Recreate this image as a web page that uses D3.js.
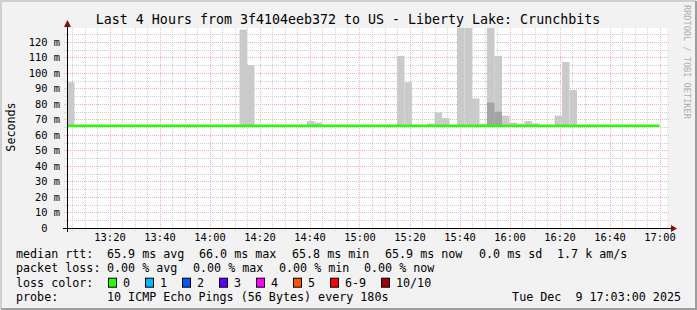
<!DOCTYPE html>
<html><head><meta charset="utf-8">
<script src="https://cdn.jsdelivr.net/npm/d3@7"></script>
<style>
html,body{margin:0;padding:0;background:#f2f2f2;}
svg{display:block;}
text{font-family:"DejaVu Sans Mono",monospace;white-space:pre;}
</style></head><body><svg id="c" width="697" height="310"></svg>
<script>
const title = "Last 4 Hours from 3f4104eeb372 to US - Liberty Lake: Crunchbits";
const day = "2025-12-09";
const startTime = "13:03";
const endTime = "17:03";
const stepMinutes = 3;
// smoke (max of 10 pings) per 3-minute step, ms
const smokeTimes = ["13:03","14:12","14:15","14:39","14:42","15:15","15:18","15:27","15:30","15:33","15:39","15:42","15:45","15:48","15:51","15:54","15:57","16:00","16:03","16:06","16:09","16:18","16:21","16:24"];
const smokeMax   = [94,128,105,69,68,111,94,67.3,74.5,71,140,140,83.5,67.3,129,111,72.5,68,67.3,69,67.5,72.5,107,89];
const smokeDarkTimes = ["15:51","15:54"];
const smokeDark      = [81,75];
const smokeMin = 65.8;
const medianTimes = ["13:03","17:00"];
const medianRtt   = [65.9,65.9];
const yTicks = [0,10,20,30,40,50,60,70,80,90,100,110,120];
const xTicks = ["13:20","13:40","14:00","14:20","14:40","15:00","15:20","15:40","16:00","16:20","16:40","17:00"];
const lossLabels = ["0","1","2","3","4","5","6-9","10/10"];
const lossColors = ["#26ff00","#00b8ff","#0059ff","#5e00ff","#ff00ff","#ff5500","#ff0000","#a10000"];
const legendRtt = ["median rtt:","65.9 ms avg","66.0 ms max","65.8 ms min","65.9 ms now","0.0 ms sd","1.7 k am/s"];
const legendLoss = ["packet loss:","0.00 % avg","0.00 % max","0.00 % min","0.00 % now"];
const probeText = ["probe:","10 ICMP Echo Pings (56 Bytes) every 180s","Tue Dec  9 17:03:00 2025"];

const parse = d3.timeParse("%Y-%m-%d %H:%M");
const T = s => parse(day+" "+s);
const svg = d3.select("#c");
const L=67,R=667,TOP=28,B=228;
const x = d3.scaleTime().domain([T(startTime),T(endTime)]).range([L,R]);
const y = d3.scaleLinear().domain([0,129]).range([B,TOP]);

// frame
svg.append("rect").attr("width",697).attr("height",310).attr("fill","#f2f2f2");
svg.append("path").attr("d","M1,309 V1 H696").attr("fill","none").attr("stroke","#cfcfcf").attr("stroke-width",2);
svg.append("path").attr("d","M1,309 H696 V1").attr("fill","none").attr("stroke","#9e9e9e").attr("stroke-width",2);
svg.append("rect").attr("x",L).attr("y",TOP).attr("width",R-L).attr("height",B-TOP).attr("fill","#fff");

// grid
const g = svg.append("g");
const minorT = d3.timeMinute.every(5).range(T("13:05"),T("17:03"));
g.selectAll(".vmin").data(minorT).join("line").attr("x1",d=>Math.round(x(d))+0.5).attr("x2",d=>Math.round(x(d))+0.5)
 .attr("y1",TOP).attr("y2",B+3).attr("stroke","#d0d0d0").attr("stroke-dasharray","1,1");
const minorV = d3.range(5,130,5);
g.selectAll(".hmin").data(minorV).join("line").attr("y1",d=>Math.round(y(d))+0.5).attr("y2",d=>Math.round(y(d))+0.5)
 .attr("x1",L-3).attr("x2",R+3).attr("stroke","#d0d0d0").attr("stroke-dasharray","1,1");
g.selectAll(".vmaj").data(xTicks.map(T)).join("line").attr("x1",d=>Math.round(x(d))+0.5).attr("x2",d=>Math.round(x(d))+0.5)
 .attr("y1",TOP).attr("y2",B+3).attr("stroke","#f2b0b0").attr("stroke-dasharray","1,1");
g.selectAll(".hmaj").data(yTicks.slice(1)).join("line").attr("y1",d=>Math.round(y(d))+0.5).attr("y2",d=>Math.round(y(d))+0.5)
 .attr("x1",L-3).attr("x2",R+3).attr("stroke","#f2b0b0").attr("stroke-dasharray","1,1");

// smoke
svg.append("clipPath").attr("id","pc").append("rect").attr("x",L).attr("y",TOP).attr("width",R-L).attr("height",B-TOP);
const sm = svg.append("g").attr("clip-path","url(#pc)");
const step = t => d3.timeMinute.offset(T(t),stepMinutes);
sm.selectAll(".s").data(smokeTimes).join("rect")
 .attr("x",t=>x(T(t))).attr("width",t=>x(step(t))-x(T(t)))
 .attr("y",(t,i)=>y(smokeMax[i])).attr("height",(t,i)=>y(smokeMin)-y(smokeMax[i])).attr("fill","#cacaca");
sm.selectAll(".d").data(smokeDarkTimes).join("rect")
 .attr("x",t=>x(T(t))).attr("width",t=>x(step(t))-x(T(t)))
 .attr("y",(t,i)=>y(smokeDark[i])).attr("height",(t,i)=>y(smokeMin)-y(smokeDark[i])).attr("fill","#a4a4a4");

// median line
svg.append("path").datum(medianTimes.map((t,i)=>[T(t),medianRtt[i]]))
 .attr("d",d3.line().x(d=>x(d[0])).y(d=>y(d[1]))).attr("stroke","#26ff00").attr("stroke-width",2.5).attr("fill","none");

// axes
const xa = svg.append("g").attr("transform",`translate(0,${B})`)
 .call(d3.axisBottom(x).tickValues(xTicks.map(T)).tickFormat(d3.timeFormat("%H:%M")).tickSize(0).tickPadding(6));
xa.select(".domain").remove();
xa.selectAll("text").attr("font-family","DejaVu Sans Mono").attr("font-size","10.4px").attr("fill","#000");
const ya = svg.append("g").attr("transform",`translate(${L},0)`)
 .call(d3.axisLeft(y).tickValues(yTicks).tickFormat(d=>d===0?"0  ":d+" m").tickSize(0).tickPadding(7));
ya.select(".domain").remove();
ya.selectAll("text").attr("font-family","DejaVu Sans Mono").attr("font-size","10.4px").attr("fill","#000");

svg.append("line").attr("x1",L-4).attr("x2",672).attr("y1",B+0.5).attr("y2",B+0.5).attr("stroke","#000");
svg.append("line").attr("x1",L+0.5).attr("x2",L+0.5).attr("y1",B+4).attr("y2",24).attr("stroke","#000");
svg.append("path").attr("d",`M${L-3},27 L${L+4},27 L${L+0.5},20 Z`).attr("fill","#7f1010");
svg.append("path").attr("d",`M671,${B-3} L671,${B+4} L677,${B+0.5} Z`).attr("fill","#7f1010");

// titles
svg.append("text").attr("x",348).attr("y",24).attr("text-anchor","middle").attr("font-size","13.3px").text(title);
svg.append("text").attr("transform","translate(14.5,127) rotate(-90)").attr("text-anchor","middle").attr("font-size","11.7px").text("Seconds");
svg.append("text").attr("transform","translate(684,5) rotate(90)").attr("font-size","8.6px").attr("fill","#b0b0b0").text("RRDTOOL / TOBI OETIKER");

// legend
const fs="11.7px";
const rowY=[258,272.3,286.7,301];
const rttX=[16,107,199,292,385,479,557];
legendRtt.forEach((s,i)=>svg.append("text").attr("x",rttX[i]).attr("y",rowY[0]).attr("font-size",fs).text(s));
const lossX=[16,107,193,279,364];
legendLoss.forEach((s,i)=>svg.append("text").attr("x",lossX[i]).attr("y",rowY[1]).attr("font-size",fs).text(s));
svg.append("text").attr("x",16).attr("y",rowY[2]).attr("font-size",fs).text("loss color:");
const swX=[108,145,182,219,256,293,330,381];
lossLabels.forEach((s,i)=>{
  svg.append("rect").attr("x",swX[i]+0.5).attr("y",rowY[2]-8.5).attr("width",8).attr("height",9).attr("fill",lossColors[i]).attr("stroke","#000");
  svg.append("text").attr("x",swX[i]+15).attr("y",rowY[2]).attr("font-size",fs).text(s);
});
svg.append("text").attr("x",16).attr("y",rowY[3]).attr("font-size",fs).text(probeText[0]);
svg.append("text").attr("x",107).attr("y",rowY[3]).attr("font-size",fs).text(probeText[1]);
svg.append("text").attr("x",681).attr("y",rowY[3]).attr("text-anchor","end").attr("font-size",fs).text(probeText[2]);
</script></body></html>
